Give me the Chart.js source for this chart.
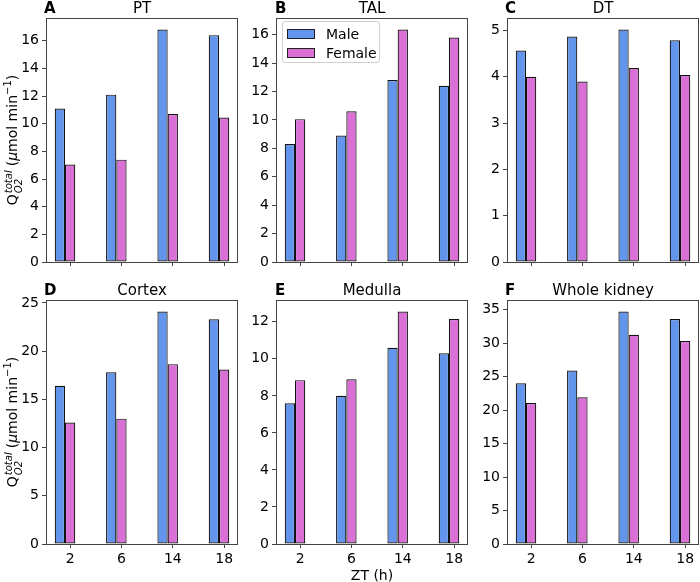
<!DOCTYPE html>
<html>
<head>
<meta charset="utf-8">
<script src="https://cdn.jsdelivr.net/npm/chart.js@4.4.1/dist/chart.umd.min.js"></script>
<style>
  body { margin: 0; background: #fff; font-family: 'DejaVu Sans', sans-serif; color: #000; }
  #fig { position: relative; width: 700px; height: 582px; overflow: hidden; }
  #fig canvas { position: absolute; }
  .letter { position: absolute; font-weight: bold; font-size: 15px; line-height: 15px; }
  .ylab { position: absolute; white-space: nowrap; font-size: 14px; line-height: 14px;
          transform: translate(-50%, -50%) rotate(-90deg); }
  .ylab .ss { display: inline-block; vertical-align: -5px; font-size: 10px; line-height: 10px;
              font-style: italic; margin-left: 1px; margin-right: 4px; }
  .ylab .ss span { display: block; }
  .ylab sup { font-size: 10px; line-height: 0; }
  .xlab { position: absolute; font-size: 14px; line-height: 14px; transform: translateX(-50%); white-space: nowrap; }
  #legend { position: absolute; left: 282px; top: 21px; width: 98px; height: 42px; box-sizing: border-box;
            border: 1px solid #d0d0d0; border-radius: 3px; background: rgba(255,255,255,0.8); font-size: 14px; }
  #legend .row { position: absolute; left: 4px; height: 14px; line-height: 14px; white-space: nowrap; }
  #legend .sw { position: absolute; left: 0; top: 2px; width: 28px; height: 10px; box-sizing: border-box; border: 1px solid #222; }
  #legend .tx { position: absolute; left: 39px; top: 0; }
</style>
</head>
<body>
<div id="fig">
  <canvas id="cA" width="240" height="272" style="left:0px;top:0px"></canvas>
  <canvas id="cB" width="240" height="272" style="left:230px;top:0px"></canvas>
  <canvas id="cC" width="240" height="272" style="left:461px;top:0px"></canvas>
  <canvas id="cD" width="240" height="290" style="left:0px;top:282px"></canvas>
  <canvas id="cE" width="240" height="290" style="left:230px;top:282px"></canvas>
  <canvas id="cF" width="240" height="290" style="left:461px;top:282px"></canvas>

  <div class="letter" style="left:44px;top:1px">A</div>
  <div class="letter" style="left:275px;top:1px">B</div>
  <div class="letter" style="left:505px;top:1px">C</div>
  <div class="letter" style="left:44px;top:283px">D</div>
  <div class="letter" style="left:275px;top:283px">E</div>
  <div class="letter" style="left:505px;top:283px">F</div>

  <div class="ylab" style="left:14px;top:140px">Q<span class="ss"><span>total</span><span>O2</span></span>(<i>μ</i>mol min<sup>−1</sup>)</div>
  <div class="ylab" style="left:14px;top:422px">Q<span class="ss"><span>total</span><span>O2</span></span>(<i>μ</i>mol min<sup>−1</sup>)</div>

  <div class="xlab" style="left:372px;top:568px">ZT (h)</div>

  <div id="legend">
    <div class="row" style="top:5px"><span class="sw" style="background:#6495ED"></span><span class="tx">Male</span></div>
    <div class="row" style="top:24px"><span class="sw" style="background:#DA70D6"></span><span class="tx">Female</span></div>
  </div>
</div>

<script>
// ZT time points (h)
const zt = ['2', '6', '14', '18'];

// total O2 consumption, umol/min
const ptMale = [11.1, 12.1, 16.8, 16.4];
const ptFemale = [7.05, 7.4, 10.7, 10.45];
const talMale = [8.3, 8.9, 12.8, 12.4];
const talFemale = [10.05, 10.6, 16.35, 15.8];
const dtMale = [4.57, 4.87, 5.02, 4.79];
const dtFemale = [4.0, 3.9, 4.19, 4.04];
const cortexMale = [16.4, 17.8, 24.1, 23.3];
const cortexFemale = [12.6, 13.0, 18.65, 18.1];
const medullaMale = [7.6, 8.0, 10.6, 10.3];
const medullaFemale = [8.85, 8.9, 12.55, 12.15];
const kidneyMale = [24.0, 25.9, 34.7, 33.6];
const kidneyFemale = [21.05, 21.9, 31.25, 30.3];

const titles = ['PT', 'TAL', 'DT', 'Cortex', 'Medulla', 'Whole kidney'];
const yTickSteps = [2, 2, 1, 5, 2, 5];

const MALE_COLOR = '#6495ED';
const FEMALE_COLOR = '#DA70D6';
const EDGE = '#111';
const SPINE = '#444';
const FONT = { family: 'DejaVu Sans', size: 14 };

// bar width in category units, like matplotlib width=0.2 with the female bar on the tick
const barW = 0.2;
const lo = -1.5 * barW, hi = zt.length - 1 + 0.5 * barW;
const xPad = 0.05 * (hi - lo);

// one tick per time point
const ztTicks = s => { s.ticks = zt.map((_, i) => ({ value: i })); };

// draws the full box around the plot area
const frame = {
    id: 'frame',
    afterDatasetsDraw(chart) {
        const a = chart.chartArea, ctx = chart.ctx;
        ctx.save();
        ctx.strokeStyle = SPINE;
        ctx.lineWidth = 1;
        ctx.strokeRect(Math.round(a.left) + 0.5, Math.round(a.top) + 0.5,
                       Math.round(a.right - a.left) - 1, Math.round(a.bottom - a.top));
        ctx.restore();
    }
};

function makePanel(id, idx, male, female, bottomRow) {
    const toPts = arr => arr.map((v, i) => ({ x: i, y: v }));
    const ymax = 1.05 * Math.max(...male, ...female);
    return new Chart(document.getElementById(id), {
        type: 'bar',
        data: {
            datasets: [
                { label: 'Male', data: toPts(male), backgroundColor: MALE_COLOR, borderColor: EDGE,
                  borderWidth: 1.2, borderSkipped: false, inflateAmount: 0, xAxisID: 'xb' },
                { label: 'Female', data: toPts(female), backgroundColor: FEMALE_COLOR, borderColor: EDGE,
                  borderWidth: 1.2, borderSkipped: false, inflateAmount: 0, xAxisID: 'xb' }
            ]
        },
        options: {
            responsive: false,
            animation: false,
            layout: { padding: { left: 0, right: 2, top: 0, bottom: 0 } },
            datasets: { bar: { categoryPercentage: 2 * barW, barPercentage: 1 } },
            plugins: {
                legend: { display: false },
                tooltip: { enabled: false },
                title: { display: true, text: titles[idx], font: { ...FONT, size: 15, weight: 'normal' }, color: '#000',
                         padding: { top: 0, bottom: 0 }, fullSize: false }
            },
            scales: {
                xb: {
                    type: 'linear', display: false, bounds: 'data', offset: false,
                    min: lo - xPad + barW / 2, max: hi + xPad + barW / 2,
                    afterBuildTicks: ztTicks
                },
                x: {
                    type: 'linear', position: 'bottom', bounds: 'data', offset: false,
                    min: lo - xPad, max: hi + xPad,
                    afterBuildTicks: ztTicks,
                    border: { display: false },
                    grid: { display: true, drawOnChartArea: false, drawTicks: true, tickLength: 4, color: SPINE, offset: false },
                    ticks: {
                        display: bottomRow, autoSkip: false,
                        maxRotation: 0, padding: 3, color: '#000', font: FONT,
                        callback: v => zt[v] ?? ''
                    },
                    afterFit: s => { s.height = bottomRow ? 28 : 10; s.paddingLeft = 0; s.paddingRight = 0; }
                },
                y: {
                    type: 'linear', min: 0, max: ymax, bounds: 'data',
                    border: { display: false },
                    grid: { display: true, drawOnChartArea: false, drawTicks: true, tickLength: 4, color: SPINE },
                    ticks: { stepSize: yTickSteps[idx], includeBounds: false, padding: 3, color: '#000', font: FONT },
                    afterFit: s => { s.width = 46; s.paddingTop = 0; s.paddingBottom = 0; }
                }
            }
        },
        plugins: [frame]
    });
}

makePanel('cA', 0, ptMale, ptFemale, false);
makePanel('cB', 1, talMale, talFemale, false);
makePanel('cC', 2, dtMale, dtFemale, false);
makePanel('cD', 3, cortexMale, cortexFemale, true);
makePanel('cE', 4, medullaMale, medullaFemale, true);
makePanel('cF', 5, kidneyMale, kidneyFemale, true);
</script>
</body>
</html>
